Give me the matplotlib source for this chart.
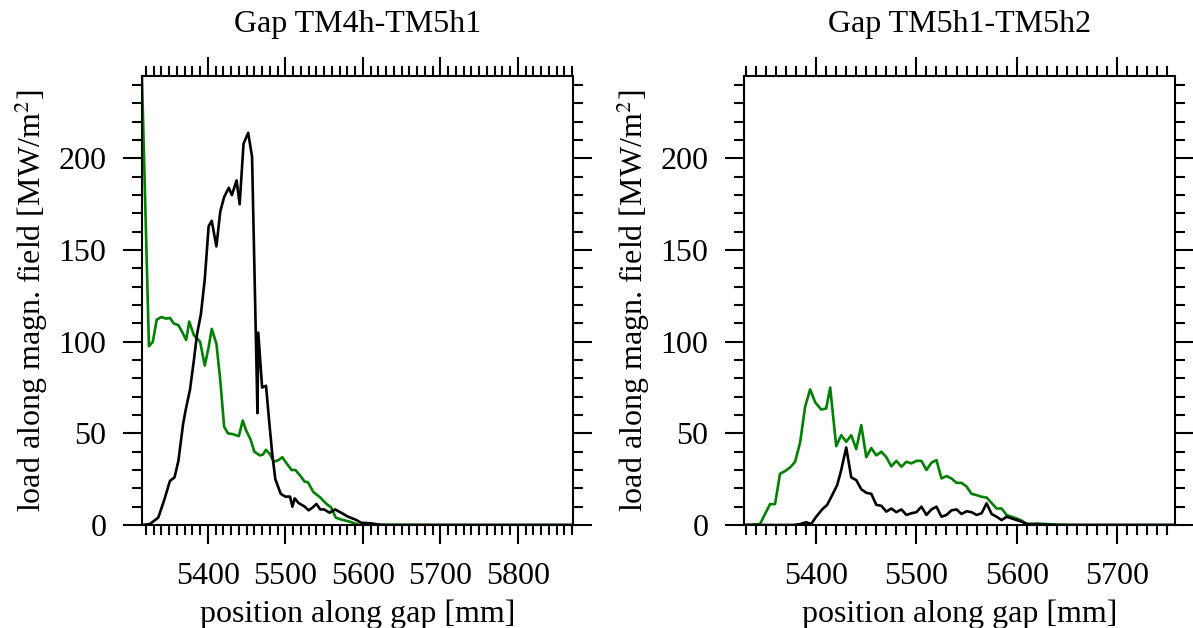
import matplotlib.pyplot as plt
from matplotlib.ticker import MultipleLocator

plt.rcParams['font.family'] = ['Liberation Serif', 'DejaVu Serif']
plt.rcParams['mathtext.fontset'] = 'stix'

# left panel: Gap TM4h-TM5h1
x_l_black = [5315, 5325, 5336, 5344, 5351, 5357, 5362, 5368, 5371, 5377, 5382, 5386, 5391, 5396,
             5401, 5405, 5411, 5416, 5421, 5427, 5431, 5437, 5441, 5446, 5452, 5457, 5464, 5465,
             5470, 5475, 5479, 5483, 5487, 5494, 5500, 5506, 5509, 5512, 5517, 5525, 5530, 5535,
             5540, 5545, 5550, 5557, 5564, 5572, 5581, 5590, 5598, 5611, 5624, 5700, 5870]
y_l_black = [0, 0.5, 4, 14, 24, 26, 35, 55, 62, 74, 90, 104, 115, 134,
             163, 166, 152, 171, 179, 184, 180, 188, 175, 208, 214, 201, 61, 105,
             75, 76, 57, 39, 25, 17, 15.5, 15.5, 10, 14.5, 12, 10, 8, 9.5,
             11.5, 8.5, 8.5, 6.7, 8.5, 6.7, 4.5, 3, 1.2, 0.9, 0, 0, 0]

x_l_green = [5315, 5324, 5329, 5334, 5340, 5346, 5351, 5356, 5362, 5366, 5372, 5376, 5382, 5390,
             5396, 5401, 5405, 5411, 5416, 5421, 5426, 5432, 5440, 5445, 5449, 5455, 5460, 5467,
             5471, 5475, 5480, 5485, 5491, 5496, 5501, 5508, 5513, 5519, 5525, 5529, 5536, 5545,
             5553, 5559, 5565, 5572, 5583, 5594, 5700, 5870]
y_l_green = [244, 97.5, 100, 112, 113.5, 112.6, 113, 110, 109, 106, 101, 111, 103.5, 100,
             87, 97, 107, 99, 79, 53.6, 50, 49.6, 48.5, 57, 52, 46.7, 40, 38,
             38.4, 41, 38.7, 34.5, 35.4, 37, 34, 30, 30, 27, 23.6, 23.4, 18, 15,
             11.5, 9.6, 4, 3, 1.8, 0.2, 0, 0]

# right panel: Gap TM5h1-TM5h2
x_r_green = [5329, 5344, 5354, 5359, 5364, 5369, 5374, 5379, 5384, 5389, 5394, 5399, 5405, 5410,
             5414, 5420, 5425, 5430, 5435, 5440, 5445, 5450, 5455, 5460, 5465, 5470, 5475, 5480,
             5485, 5490, 5495, 5500, 5505, 5510, 5515, 5520, 5525, 5530, 5535, 5540, 5545, 5550,
             5555, 5560, 5565, 5570, 5575, 5580, 5585, 5590, 5595, 5600, 5605, 5610, 5620, 5640,
             5660, 5758]
y_r_green = [0, 0.5, 11.4, 11.4, 28, 29.4, 31.4, 34.5, 45, 64.5, 74, 67, 63, 63.6,
             75, 43, 49, 45.4, 49, 41.4, 54.5, 37, 42, 38, 40, 37, 32, 35,
             31.8, 34.5, 33.6, 35, 35, 30, 34, 35.4, 25.4, 26.7, 25.4, 23, 23, 21,
             17, 16.3, 15.4, 15, 12, 9, 9, 5.4, 4.5, 3.6, 2.4, 0.5, 0.8, 0.2,
             0, 0]

x_r_black = [5329, 5377, 5384, 5390, 5395, 5400, 5406, 5411, 5416, 5421, 5425, 5430, 5435, 5440,
             5445, 5450, 5455, 5460, 5465, 5470, 5475, 5480, 5485, 5490, 5495, 5500, 5505, 5510,
             5515, 5520, 5525, 5530, 5535, 5540, 5545, 5550, 5555, 5560, 5565, 5570, 5575, 5580,
             5585, 5590, 5595, 5600, 5605, 5611, 5640, 5758]
y_r_black = [0, 0, 0.5, 1.5, 0.5, 4.5, 8.5, 11, 16.3, 21.8, 30, 42.3, 26, 24.5,
             19.5, 17.6, 17, 11, 10.5, 7.3, 9, 7, 8.5, 5.5, 6.4, 7, 10, 5.5,
             8.5, 10, 4.5, 5.5, 8, 8.5, 6, 7.5, 7, 5.5, 6.4, 11.8, 6, 4.5,
             2.7, 4.5, 3.6, 2.7, 1.8, 0.5, 0, 0]

fig = plt.figure(figsize=(11.93, 6.28), dpi=100)
ax1 = fig.add_axes([0.119, 0.164, 0.3613, 0.715])
ax2 = fig.add_axes([0.6236, 0.164, 0.3614, 0.715])

panels = [
    (ax1, 'Gap TM4h-TM5h1', x_l_black, y_l_black, x_l_green, y_l_green, (5315, 5871)),
    (ax2, 'Gap TM5h1-TM5h2', x_r_black, y_r_black, x_r_green, y_r_green, (5328, 5758)),
]

fs = 23
for ax, title, xb, yb, xg, yg, xl in panels:
    ax.plot(xg, yg, color='#008000', lw=1.9)
    ax.plot(xb, yb, color='black', lw=1.9)
    ax.set_xlim(xl)
    ax.set_ylim(0, 245)
    ax.xaxis.set_major_locator(MultipleLocator(100))
    ax.xaxis.set_minor_locator(MultipleLocator(10))
    ax.yaxis.set_major_locator(MultipleLocator(50))
    ax.yaxis.set_minor_locator(MultipleLocator(10))
    ax.tick_params(which='both', direction='out', top=True, right=True,
                   labeltop=False, labelright=False, width=1.5, labelsize=fs)
    ax.tick_params(which='major', length=13.5)
    ax.tick_params(which='minor', length=7)
    ax.tick_params(axis='y', pad=12)
    ax.tick_params(axis='x', pad=13)
    for s in ax.spines.values():
        s.set_linewidth(1.5)
    ax.set_title(title, fontsize=fs, pad=32)
    ax.set_xlabel('position along gap [mm]', fontsize=fs, labelpad=6)
    ax.set_ylabel('load along magn. field [MW/m$^2$]', fontsize=fs, labelpad=6)

fig.savefig('out.png', dpi=100)
